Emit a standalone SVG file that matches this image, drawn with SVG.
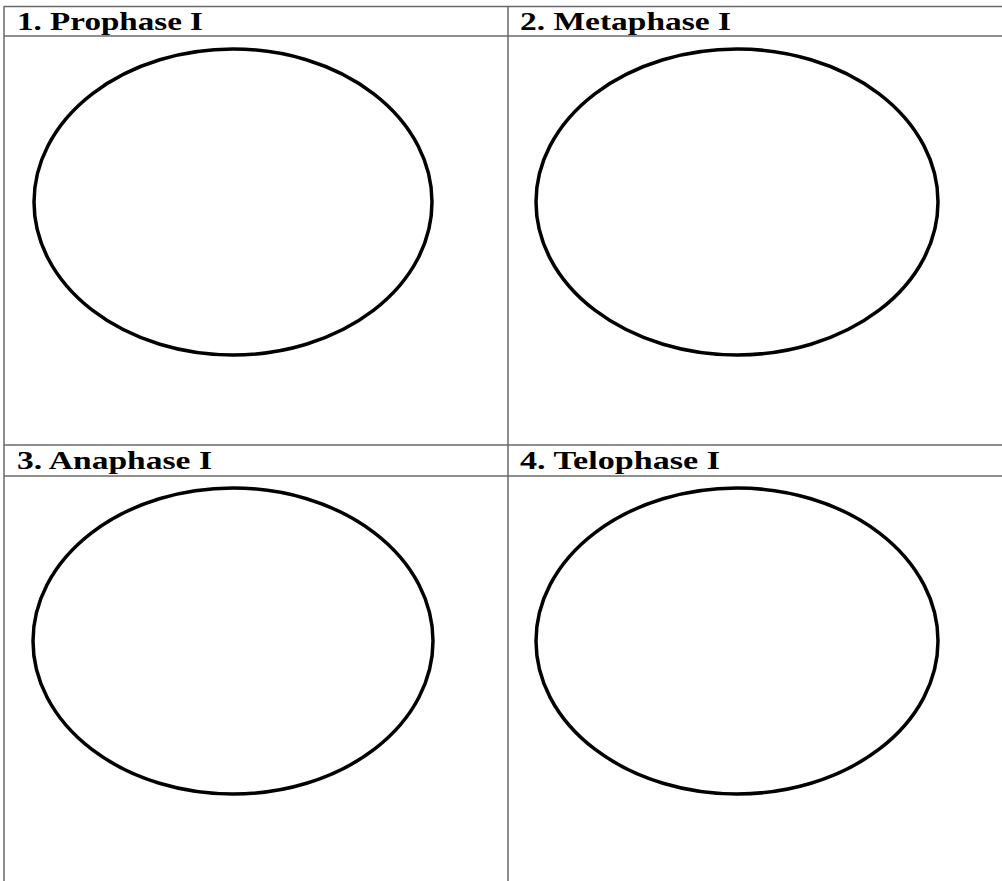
<svg xmlns="http://www.w3.org/2000/svg" width="1002" height="881" viewBox="0 0 1002 881">
<style>
.grid{stroke:#6a6a6a;stroke-width:1.5;fill:none}
.cell{fill:none;stroke:#000;stroke-width:3.5}
.lbl{font-family:"Liberation Serif",serif;font-weight:bold;font-size:25px;fill:#000}
</style>
<rect width="1002" height="881" fill="#fff"/>
<g id="grid">
<line class="grid" x1="4" y1="6.5" x2="1002" y2="6.5"/>
<line class="grid" x1="4" y1="36" x2="1002" y2="36"/>
<line class="grid" x1="4" y1="445" x2="1002" y2="445"/>
<line class="grid" x1="4" y1="476" x2="1002" y2="476"/>
<line class="grid" x1="4" y1="6" x2="4" y2="881"/>
<line class="grid" x1="508" y1="6" x2="508" y2="881"/>
</g>
<g id="node1">
<text class="lbl" x="17" y="30" textLength="186" lengthAdjust="spacingAndGlyphs">1. Prophase I</text>
<ellipse class="cell" cx="233" cy="202" rx="199" ry="153"/>
</g>
<g id="node2">
<text class="lbl" x="520" y="30" textLength="211" lengthAdjust="spacingAndGlyphs">2. Metaphase I</text>
<ellipse class="cell" cx="737" cy="202" rx="201" ry="153"/>
</g>
<g id="node3">
<text class="lbl" x="17" y="469" textLength="195" lengthAdjust="spacingAndGlyphs">3. Anaphase I</text>
<ellipse class="cell" cx="233" cy="641" rx="200" ry="153"/>
</g>
<g id="node4">
<text class="lbl" x="520" y="469" textLength="200" lengthAdjust="spacingAndGlyphs">4. Telophase I</text>
<ellipse class="cell" cx="737" cy="641" rx="201" ry="153"/>
</g>
</svg>
